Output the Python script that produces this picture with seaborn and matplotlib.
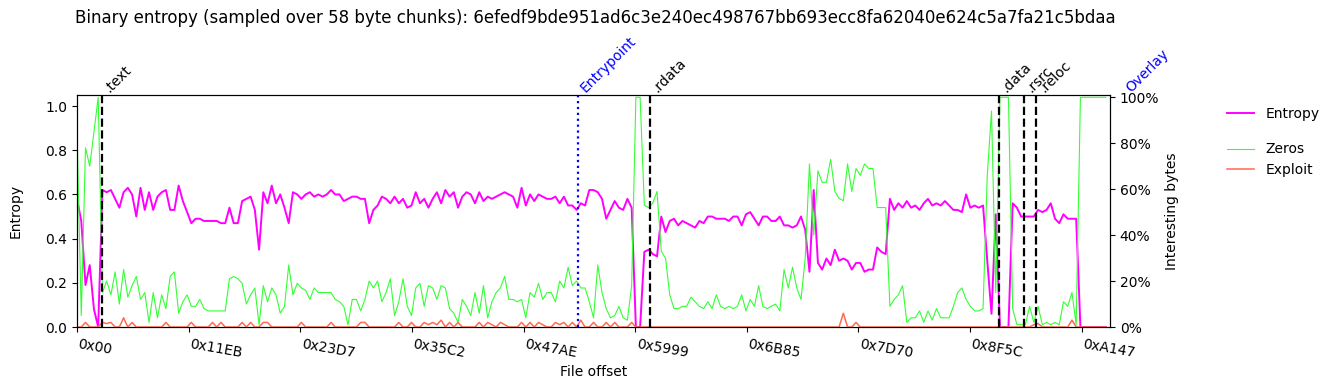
#  import needed libraries
import numpy as np
import matplotlib
matplotlib.use('Agg')
import matplotlib.pyplot as plt
from matplotlib.ticker import PercentFormatter
import seaborn as sns

#  sample info (values were read every 3 chunks of 58 bytes)
sha256 = '6efedf9bde951ad6c3e240ec498767bb693ecc8fa62040e624c5a7fa21c5bdaa'
chunk_size = 58
step = 3
plot_end = 42456

#  entropy per sample (0 - 1)
entropy = [
    0.58, 0.48, 0.19, 0.28, 0.08, 0.0,
    0.62, 0.61, 0.62, 0.58, 0.54, 0.61, 0.63, 0.60, 0.50, 0.63, 0.53, 0.61, 0.53, 0.59,
    0.61, 0.62, 0.53, 0.53, 0.64, 0.57, 0.52, 0.47, 0.49, 0.49, 0.48, 0.48, 0.48, 0.48,
    0.47, 0.47, 0.54, 0.47, 0.47, 0.57, 0.58,
    0.59, 0.53, 0.35, 0.61, 0.56, 0.64, 0.56, 0.60, 0.54, 0.47, 0.61, 0.60, 0.58, 0.60,
    0.61, 0.59, 0.60, 0.59, 0.60, 0.62, 0.60, 0.60, 0.57, 0.58, 0.59, 0.59, 0.58, 0.58,
    0.47, 0.53, 0.55, 0.59, 0.58, 0.56, 0.59, 0.56, 0.58, 0.54, 0.55, 0.61, 0.56,
    0.58, 0.54, 0.58, 0.61, 0.56, 0.62, 0.59, 0.61, 0.54, 0.59, 0.61, 0.60, 0.56, 0.61,
    0.57, 0.59, 0.58, 0.59, 0.60, 0.61, 0.60, 0.59, 0.54, 0.63, 0.55, 0.60, 0.57, 0.60,
    0.59, 0.58, 0.58, 0.59, 0.56, 0.59, 0.55, 0.55, 0.53, 0.56, 0.55, 0.62,
    0.62, 0.61, 0.58, 0.49, 0.53, 0.57, 0.54, 0.53, 0.58, 0.54, 0.0, 0.0, 0.34, 0.35,
    0.33, 0.32, 0.50, 0.43, 0.48, 0.49, 0.46, 0.48, 0.47, 0.46, 0.45, 0.48, 0.47, 0.50,
    0.50, 0.49, 0.49, 0.49, 0.48, 0.50, 0.50, 0.46, 0.51, 0.52, 0.49, 0.46,
    0.50, 0.50, 0.48, 0.48, 0.50, 0.46, 0.46, 0.45, 0.46, 0.50, 0.44, 0.25, 0.62, 0.29,
    0.26, 0.31, 0.28, 0.35, 0.30, 0.31, 0.30, 0.26, 0.29, 0.29, 0.25, 0.26, 0.26, 0.36,
    0.34, 0.33, 0.58, 0.53, 0.56, 0.54, 0.57, 0.54, 0.55, 0.53, 0.56, 0.58,
    0.55, 0.56, 0.55, 0.57, 0.55, 0.53, 0.53, 0.52, 0.60, 0.54, 0.55, 0.54, 0.55, 0.30,
    0.06, 0.51, 0.0, 0.0, 0.0, 0.56, 0.54, 0.50, 0.50, 0.50, 0.50, 0.53, 0.52, 0.53,
    0.56, 0.49, 0.47, 0.51, 0.49, 0.49, 0.49,
    0.0, 0.0, 0.0, 0.0, 0.0, 0.0, 0.0,
]

#  percentage of zero bytes per sample
zeros_pct = [
    85, 5, 78, 70, 85, 100,
    15, 20, 14, 24, 10, 25, 13, 18, 22, 12, 15, 2, 15, 4,
    14, 8, 22, 24, 6, 11, 14, 9, 9, 12, 8, 7, 7, 7,
    7, 7, 21, 22, 21, 19, 10,
    14, 17, 1, 18, 11, 17, 14, 6, 9, 27, 14, 19, 17, 16,
    12, 17, 15, 15, 15, 15, 12, 11, 9, 1, 12, 12, 7, 12,
    20, 17, 20, 11, 15, 21, 5, 11, 21, 9, 5, 17, 19,
    9, 18, 17, 12, 18, 17, 8, 6, 2, 12, 9, 5, 15, 6,
    18, 4, 11, 15, 17, 22, 12, 12, 11, 12, 4, 15, 13, 19,
    12, 15, 15, 11, 20, 17, 26, 18, 20, 17, 17, 11,
    4, 27, 15, 8, 4, 5, 9, 4, 3, 18, 100, 100, 53, 52,
    54, 59, 33, 30, 14, 8, 8, 9, 9, 13, 11, 9, 8, 11,
    8, 14, 9, 8, 9, 8, 9, 14, 7, 12, 9, 18,
    9, 8, 9, 10, 7, 25, 17, 26, 17, 12, 30, 71, 40, 68,
    63, 63, 73, 59, 56, 55, 71, 59, 69, 66, 71, 69, 69, 52,
    52, 52, 9, 12, 14, 18, 2, 4, 4, 7, 2, 7,
    3, 8, 4, 4, 4, 9, 15, 17, 12, 9, 7, 7, 8, 66,
    94, 15, 100, 100, 100, 8, 1, 1, 1, 9, 2, 9, 1, 2,
    1, 2, 1, 11, 9, 15, 1,
    100, 100, 100, 100, 100, 100, 100,
]

#  percentage of exploit-like bytes per sample
exploit_pct = [
    0, 0, 2, 0, 0, 0, 2, 1.5, 2, 0, 0, 4, 0, 2, 0, 0, 0, 0, 0, 0,
    0, 2, 0, 0, 0, 0, 0, 2, 0, 0, 0, 0, 2, 0, 2, 0, 0, 0, 0, 2,
    0, 2, 0, 0, 2, 2, 0, 0, 0, 0, 0, 0, 0, 2, 0, 0, 0, 0, 0, 0,
    2, 0, 0, 0, 0, 0, 0, 2, 2, 0, 0, 0, 0, 0, 0, 0, 2, 0, 0, 2,
    0, 0, 2, 1, 2, 1, 3, 0, 2, 0, 2, 0, 0, 0, 0, 2, 0, 2, 1, 0,
    2, 1, 0, 0, 0, 2, 0, 2, 0, 2, 1, 0, 0, 2, 1, 2, 0, 2, 0, 3,
    0, 0, 2, 0, 0, 2, 0, 2, 0, 0, 0, 2, 0, 0, 0, 0, 0, 0, 0, 0,
    0, 0, 0, 0, 0, 0, 0, 0, 0, 0, 0, 0, 0, 0, 0, 0, 0, 0, 0, 0,
    0, 0, 0, 0, 0, 0, 0, 0, 0, 0, 0, 0, 0, 0, 0, 0, 0, 0, 0, 0,
    0, 6, 0, 0, 2, 0, 0, 0, 0, 0, 0, 0, 0, 0, 0, 0, 0, 0, 0, 0,
    0, 0, 0, 0, 0, 0, 0, 0, 0, 0, 0, 0, 0, 0, 0, 0, 0, 0, 0, 0,
    0, 0, 0, 0, 0, 0, 1, 1.5, 0, 0, 0, 0, 0, 0, 0, 3, 0, 0, 0, 0,
    0, 0, 0, 0,
]

#  x axis tick labels (file offsets)
tick_labels = ['0x00', '0x11EB', '0x23D7', '0x35C2', '0x47AE',
               '0x5999', '0x6B85', '0x7D70', '0x8F5C', '0xA147']

#  pe sections and other markers
section_names = ['.text', '.rdata', '.data', '.rsrc', '.reloc']
section_offsets = [0x400, 0x5C00, 0x9400, 0x9800, 0x9A00]
entrypoint_offset = 0x5070
overlay_offset = 0xA800

offsets = np.arange(len(entropy)) * step * chunk_size

#  figure and axes
fig = plt.figure(figsize=(13.35, 3.9), dpi=100)
ax = fig.add_axes([0.0577, 0.1615, 0.7738, 0.5949])
ax2 = ax.twinx()

sns.lineplot(x=offsets, y=entropy, ax=ax, color='#ff00ff', linewidth=1.4,
             sort=False, estimator=None, legend=False)
h_entropy = ax.get_lines()[-1]
sns.lineplot(x=offsets, y=zeros_pct, ax=ax2, color='#33ff33', linewidth=0.8,
             sort=False, estimator=None, legend=False)
h_zeros = ax2.get_lines()[-1]
sns.lineplot(x=offsets, y=exploit_pct, ax=ax2, color='#ff6a50', linewidth=1.1,
             sort=False, estimator=None, legend=False)
h_exploit = ax2.get_lines()[-1]

#  section lines and labels
trans = ax.get_xaxis_transform()
for name, off in zip(section_names, section_offsets):
    ax2.axvline(off, color='black', linestyle='--', linewidth=1.6)
    ax.text(off, 1.0, name, transform=trans, rotation=45, ha='left',
            va='bottom', fontsize=10, clip_on=False)
ax2.axvline(entrypoint_offset, color='blue', linestyle=':', linewidth=1.6)
ax.text(entrypoint_offset, 1.0, 'Entrypoint', transform=trans, rotation=45,
        ha='left', va='bottom', fontsize=10, color='blue', clip_on=False)
ax.text(overlay_offset, 1.0, 'Overlay', transform=trans, rotation=45,
        ha='left', va='bottom', fontsize=10, color='blue', clip_on=False)

#  axes limits, ticks and labels
ax.set_xlim(0, plot_end)
ax.set_ylim(0, 1.05)
ax2.set_ylim(0, 101)
ax.set_xticks([int(t, 16) for t in tick_labels])
ax.set_xticklabels(tick_labels, rotation=-10, ha='left')
ax.set_yticks([0.0, 0.2, 0.4, 0.6, 0.8, 1.0])
ax2.set_yticks([0, 20, 40, 60, 80, 100])
ax2.yaxis.set_major_formatter(PercentFormatter(100, decimals=0))
ax.set_xlabel('File offset')
ax.set_ylabel('Entropy', labelpad=16)
ax2.set_ylabel('Interesting bytes')

fig.text(0.0562, 0.954, 'Binary entropy (sampled over %d byte chunks): %s' % (chunk_size, sha256),
         fontsize=12, va='center')

#  two stacked legends outside on the right
fig.legend([h_entropy], ['Entropy'], loc='upper left', bbox_to_anchor=(0.9095, 0.757),
           frameon=False)
fig.legend([h_zeros, h_exploit], ['Zeros', 'Exploit'], loc='upper left',
           bbox_to_anchor=(0.9095, 0.667), frameon=False)

fig.savefig('out.png', dpi=100)
